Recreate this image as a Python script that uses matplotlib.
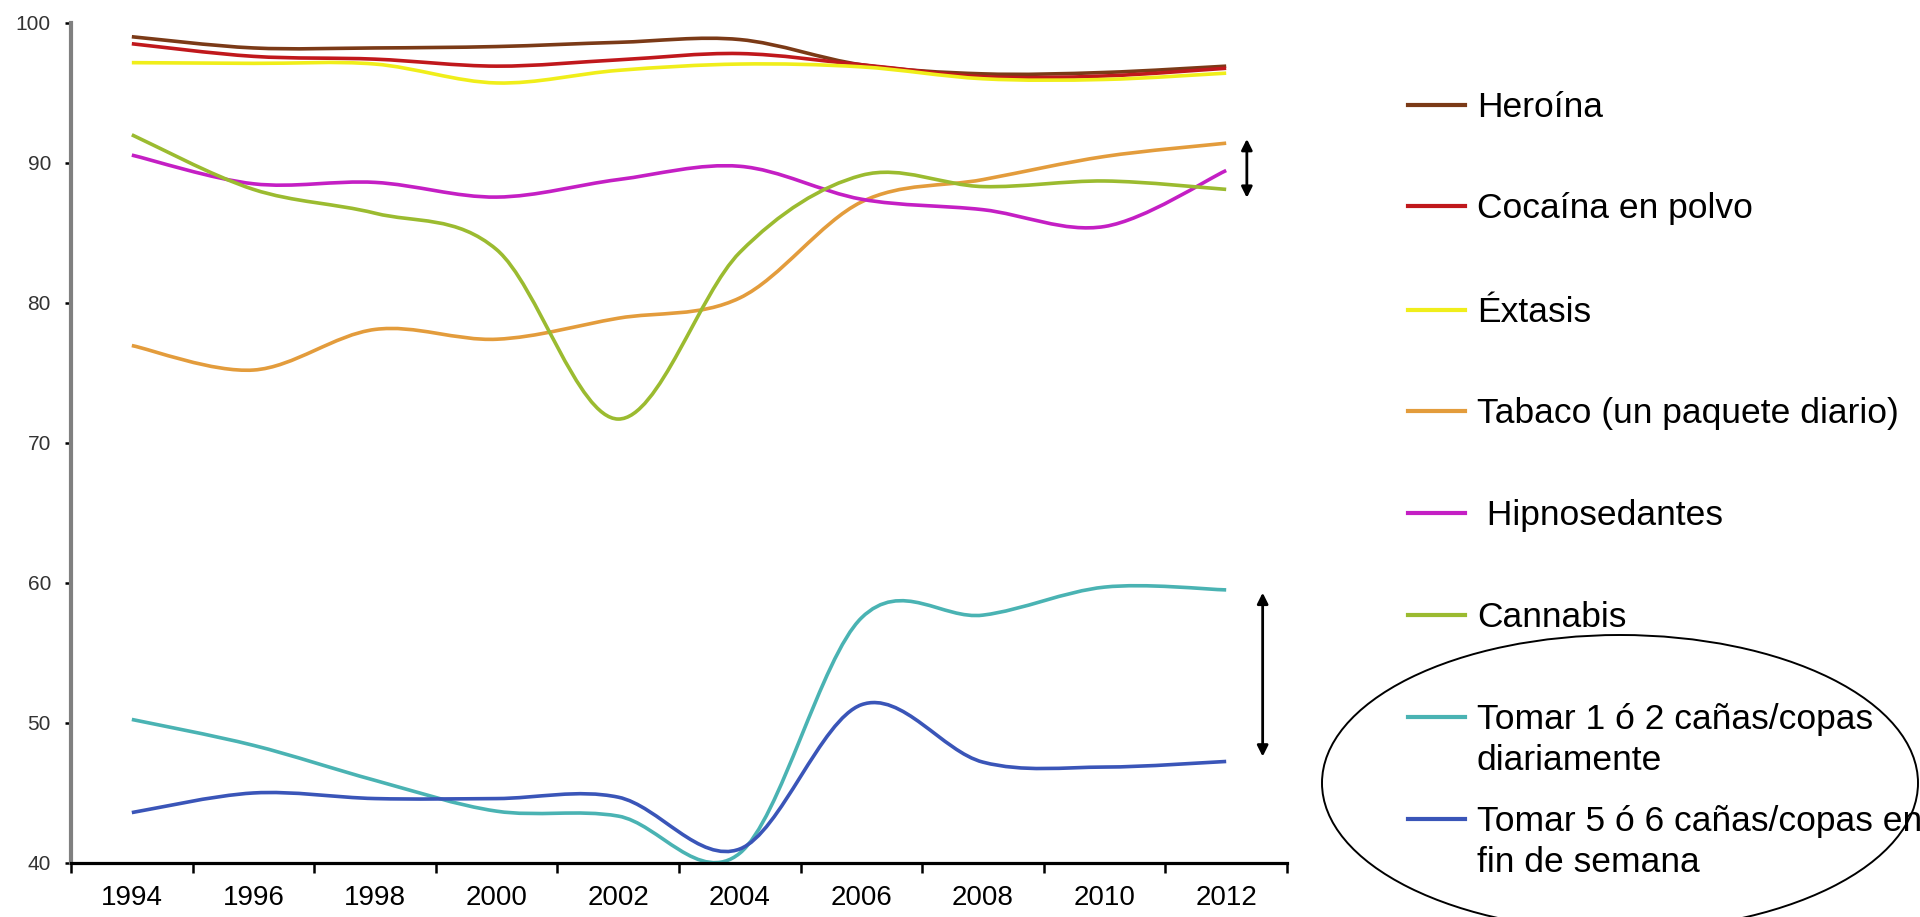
import matplotlib.pyplot as plt
import numpy as np
from matplotlib.path import Path
from matplotlib.patches import PathPatch, Ellipse
from matplotlib.lines import Line2D

plt.rcParams['font.family'] = ['Liberation Sans', 'DejaVu Sans']

years = ['1994', '1996', '1998', '2000', '2002', '2004', '2006', '2008', '2010', '2012']

heroina = [99.0, 98.2, 98.2, 98.3, 98.6, 98.8, 97.0, 96.35, 96.45, 96.9]
cocaina = [98.5, 97.6, 97.4, 96.9, 97.35, 97.8, 97.0, 96.15, 96.2, 96.75]
extasis = [97.15, 97.1, 97.05, 95.7, 96.6, 97.05, 96.85, 96.0, 95.95, 96.4]
tabaco = [76.95, 75.2, 78.1, 77.4, 78.9, 80.35, 87.2, 88.8, 90.45, 91.4]
hipno = [90.55, 88.5, 88.6, 87.55, 88.8, 89.75, 87.4, 86.65, 85.45, 89.45]
cannabis = [92.0, 88.1, 86.4, 83.8, 71.7, 83.6, 89.1, 88.3, 88.7, 88.1]
copas_diario = [50.25, 48.4, 45.9, 43.7, 43.35, 40.7, 57.5, 57.7, 59.7, 59.5]
copas_finde = [43.6, 45.0, 44.6, 44.6, 44.7, 41.0, 51.3, 47.2, 46.85, 47.25]

labels = ['Heroína', 'Cocaína en polvo', 'Éxtasis', 'Tabaco (un paquete diario)',
          ' Hipnosedantes', 'Cannabis', 'Tomar 1 ó 2 cañas/copas\ndiariamente',
          'Tomar 5 ó 6 cañas/copas en\nfin de semana']
series = [heroina, cocaina, extasis, tabaco, hipno, cannabis, copas_diario, copas_finde]
colors = ['#7b3a17', '#c0181c', '#f0ee1a', '#e39c3c', '#c41fc4', '#9bbb30', '#4ab3b3', '#3a55b8']


def smooth_path(xs, ys):
    # excel-like smoothed line: cubic bezier through the points
    pts = np.column_stack([xs, ys])
    verts = [pts[0]]
    codes = [Path.MOVETO]
    n = len(pts)
    for i in range(n - 1):
        p0 = pts[max(i - 1, 0)]
        p1 = pts[i]
        p2 = pts[i + 1]
        p3 = pts[min(i + 2, n - 1)]
        c1 = p1 + (p2 - p0) / 6.0
        c2 = p2 - (p3 - p1) / 6.0
        verts += [c1, c2, p2]
        codes += [Path.CURVE4] * 3
    return Path(verts, codes)


fig = plt.figure(figsize=(19.2, 9.17), dpi=100)
ax = fig.add_axes([0.037, 0.0589, 0.6333, 0.9163])

x = np.arange(len(years))
for vals, c in zip(series, colors):
    ax.add_patch(PathPatch(smooth_path(x, vals), fill=False, edgecolor=c, lw=2.6,
                           capstyle='butt', joinstyle='round'))

ax.set_xlim(-0.5, len(years) - 0.5)
ax.set_ylim(40, 100)
ax.set_yticks(range(40, 101, 10))
ax.set_xticks(x)
ax.set_xticklabels(years)
ax.set_xticks(np.arange(-0.5, len(years)), minor=True)

ax.spines['top'].set_visible(False)
ax.spines['right'].set_visible(False)
ax.spines['left'].set_color('#808080')
ax.spines['left'].set_linewidth(3)
ax.spines['bottom'].set_color('black')
ax.spines['bottom'].set_linewidth(2.3)

ax.tick_params(axis='x', which='major', length=0, pad=16, labelsize=20, labelcolor='black')
ax.tick_params(axis='x', which='minor', length=7, width=1.8, direction='out', color='black')
ax.tick_params(axis='y', length=4.5, width=1.8, direction='out', color='black',
               pad=10, labelsize=15, labelcolor='#333333')

# double arrows on the right of the lines
arrow = dict(arrowstyle='<|-|>', color='black', lw=2, mutation_scale=16,
             shrinkA=0, shrinkB=0)
ax.annotate('', xy=(9.17, 91.7), xytext=(9.17, 87.5), arrowprops=arrow, annotation_clip=False)
ax.annotate('', xy=(9.30, 59.3), xytext=(9.30, 47.6), arrowprops=arrow, annotation_clip=False)

# legend drawn by hand to keep the spacing of the original
H = 917.0
W = 1920.0
row_y = [105, 206, 310, 411, 513, 615, 717, 819]
for lab, c, yp in zip(labels, colors, row_y):
    fy = 1 - yp / H
    fig.add_artist(Line2D([1408 / W, 1465 / W], [fy, fy], color=c, lw=3.0,
                          transform=fig.transFigure))
    for k, part in enumerate(lab.split('\n')):
        fig.text(1477 / W, 1 - (yp + 12 + 41 * k) / H, part, fontsize=25.5,
                 va='baseline', ha='left', color='black')

fig.add_artist(Ellipse((1620 / W, 1 - 783 / H), 596 / W, 296 / H, fill=False,
                       edgecolor='black', lw=1.4, transform=fig.transFigure))

fig.savefig('out.png', dpi=100, facecolor='white')
